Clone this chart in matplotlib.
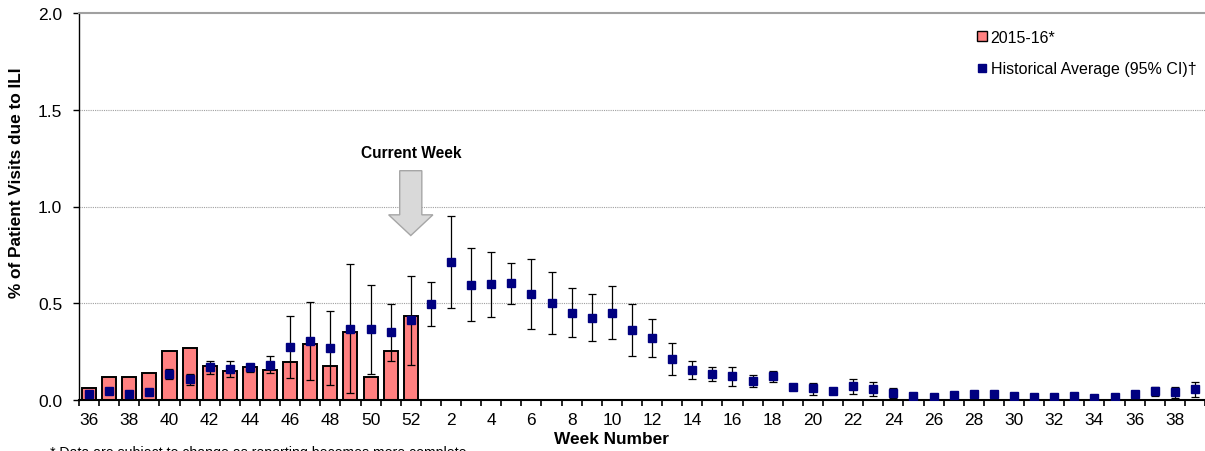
import numpy as np
import matplotlib
matplotlib.use("Agg")
import matplotlib.pyplot as plt
from matplotlib.patches import Patch, FancyArrow
from matplotlib.lines import Line2D

plt.rcParams.update({
    "font.family": ["Liberation Sans", "DejaVu Sans"],
    "font.size": 11,
})

# ── Data ──────────────────────────────────────────────────────────────────────
weeks = list(range(36, 53)) + list(range(1, 40))

season_label = "2015-16*"
season_vals = [0.060, 0.117, 0.117, 0.140, 0.255, 0.269, 0.174, 0.148, 0.169,
               0.157, 0.195, 0.289, 0.174, 0.353, 0.117, 0.253, 0.434]

hist_label = "Historical Average (95% CI)\u2020"
hist_mean = [0.031, 0.048, 0.030, 0.040, 0.134, 0.108, 0.169, 0.160, 0.171,
             0.183, 0.272, 0.305, 0.270, 0.367, 0.365, 0.350, 0.415,
             0.498, 0.712, 0.596, 0.598, 0.603, 0.546, 0.503, 0.451, 0.425,
             0.448, 0.360, 0.322, 0.210, 0.157, 0.133, 0.122, 0.098, 0.124,
             0.067, 0.060, 0.045, 0.070, 0.055, 0.035, 0.020, 0.017, 0.026,
             0.029, 0.031, 0.022, 0.017, 0.017, 0.022, 0.010, 0.018, 0.029,
             0.045, 0.040, 0.057]
hist_hi = [0.031, 0.055, 0.030, 0.045, 0.160, 0.134, 0.203, 0.203, 0.186,
           0.226, 0.432, 0.508, 0.462, 0.705, 0.595, 0.496, 0.643,
           0.608, 0.952, 0.786, 0.767, 0.710, 0.727, 0.663, 0.577, 0.548,
           0.587, 0.496, 0.420, 0.293, 0.203, 0.172, 0.170, 0.131, 0.150,
           0.067, 0.090, 0.045, 0.108, 0.091, 0.060, 0.020, 0.017, 0.026,
           0.029, 0.031, 0.022, 0.017, 0.017, 0.022, 0.010, 0.018, 0.029,
           0.069, 0.068, 0.095]
hist_lo = [0.031, 0.040, 0.030, 0.035, 0.109, 0.077, 0.134, 0.117, 0.146,
           0.140, 0.112, 0.102, 0.076, 0.036, 0.136, 0.203, 0.180,
           0.384, 0.477, 0.407, 0.429, 0.498, 0.367, 0.343, 0.324, 0.305,
           0.314, 0.226, 0.224, 0.128, 0.109, 0.096, 0.074, 0.069, 0.093,
           0.067, 0.028, 0.045, 0.032, 0.019, 0.009, 0.020, 0.017, 0.026,
           0.029, 0.031, 0.022, 0.017, 0.017, 0.022, 0.010, 0.018, 0.029,
           0.019, 0.010, 0.018]

current_week = 52
footnote = "* Data are subject to change as reporting becomes more complete"

BAR_COLOR = "#ff8080"
PT_COLOR = "#000080"

# ── Plot ──────────────────────────────────────────────────────────────────────
fig = plt.figure(figsize=(12.05, 4.52), dpi=100)
ax = fig.add_axes([79 / 1205, 1 - 401 / 452, 1 - 79 / 1205, (401 - 14) / 452])

x = np.arange(len(weeks))
mean = np.array(hist_mean)
yerr = np.vstack([mean - np.array(hist_lo), np.array(hist_hi) - mean])

ax.bar(x[:len(season_vals)], season_vals, width=0.7, color=BAR_COLOR,
       edgecolor="black", linewidth=1.4, zorder=2)
ax.errorbar(x, mean, yerr=yerr, fmt="none", ecolor="black", elinewidth=0.9,
            capsize=2.8, capthick=0.9, zorder=3)
ax.plot(x, mean, ls="none", marker="s", ms=5.5, color=PT_COLOR, zorder=4)

ax.set_xlim(-0.5, len(weeks) - 0.5)
ax.set_ylim(0, 2.0)
ax.set_yticks([0, 0.5, 1.0, 1.5, 2.0])
ax.set_yticklabels([f"{v:.1f}" for v in [0, 0.5, 1.0, 1.5, 2.0]], fontsize=12.5)
for v in [0.5, 1.0, 1.5]:
    ax.axhline(v, color="#a0a0a0", lw=0.8, ls=(0, (1, 1)), zorder=0)

# ticks at category boundaries, labels every second week
ax.set_xticks(np.arange(-0.5, len(weeks), 1.0))
ax.set_xticklabels([])
ax.set_xticks(x[::2], minor=True)
ax.set_xticklabels([str(w) for w in weeks[::2]], minor=True, fontsize=12.5)
ax.tick_params(axis="x", which="major", direction="out", length=4, width=1.2)
ax.tick_params(axis="x", which="minor", length=0, pad=9)
ax.tick_params(axis="y", direction="out", length=4, width=1.0, pad=8)

ax.spines["right"].set_visible(False)
ax.spines["top"].set_color("#a0a0a0")
ax.spines["top"].set_linewidth(1.5)
ax.spines["left"].set_linewidth(1.0)
ax.spines["bottom"].set_linewidth(1.5)

# current week arrow
cw = weeks.index(current_week)
ax.add_patch(FancyArrow(cw, 1.185, 0, -0.335, width=1.1, head_width=2.2,
                        head_length=0.107, length_includes_head=True,
                        facecolor="#d9d9d9", edgecolor="#a6a6a6", lw=1.0,
                        zorder=5))
ax.text(cw, 1.28, "Current Week", ha="center", va="center",
        fontsize=11.2, fontweight="bold")

# legend
handles = [Patch(facecolor=BAR_COLOR, edgecolor="black", linewidth=1.0),
           Line2D([], [], ls="none", marker="s", ms=5.5, color=PT_COLOR)]
fig.legend(handles, [season_label, hist_label], loc="upper left",
           bbox_to_anchor=(969 / 1205, 1 - 23 / 452), frameon=False,
           handlelength=0.6, handleheight=0.6, handletextpad=0.25,
           labelspacing=1.0, fontsize=11.5, borderpad=0)

fig.text(611 / 1205, 1 - 440 / 452, "Week Number", ha="center", va="center",
         fontsize=12.4, fontweight="bold")
fig.text(17 / 1205, 1 - 183 / 452, "% of Patient Visits due to ILI",
         ha="center", va="center", rotation=90, fontsize=12.4,
         fontweight="bold")
fig.text(50 / 1205, 1 - 446 / 452, footnote, ha="left", va="top",
         fontsize=10.2)

fig.savefig("out.png", dpi=100)
